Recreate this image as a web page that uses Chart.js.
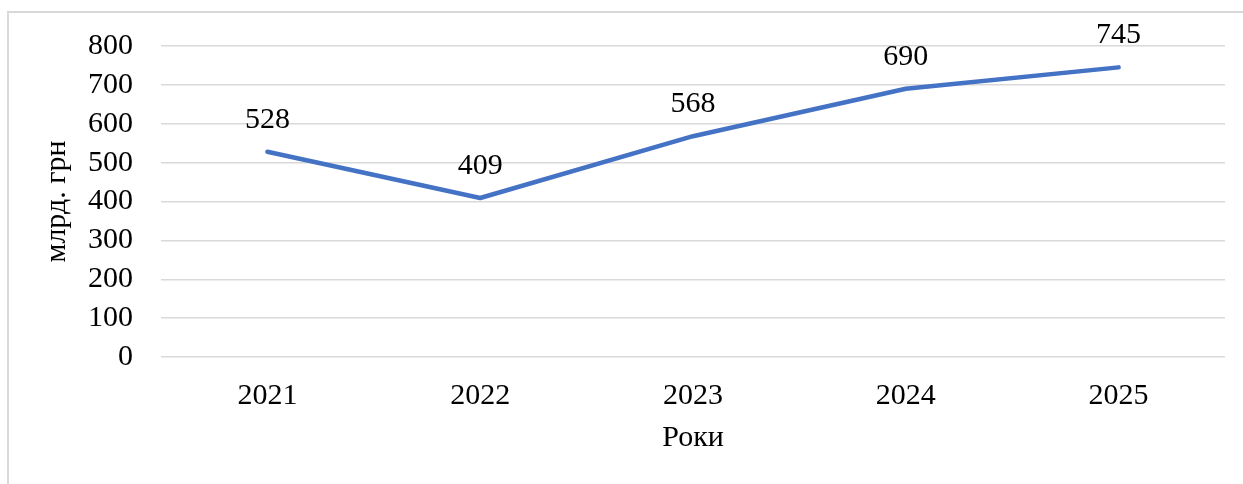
<!DOCTYPE html>
<html>
<head>
<meta charset="utf-8">
<script src="https://cdn.jsdelivr.net/npm/chart.js@4.4.1/dist/chart.umd.min.js"></script>
<style>
    html, body { margin: 0; padding: 0; background: #fff; }
    #wrap { position: relative; width: 1243px; height: 484px; }
    #frame {
        position: absolute; left: 7px; top: 11px; right: 0; bottom: 0;
        border-left: 2px solid #d9d9d9; border-top: 2px solid #d9d9d9;
    }
    #chart { position: absolute; left: 0; top: 0; }
</style>
</head>
<body>
<div id="wrap">
    <div id="frame"></div>
    <canvas id="chart" width="1243" height="484"></canvas>
</div>
<script>
const years = ['2021', '2022', '2023', '2024', '2025'];
const values = [528, 409, 568, 690, 745];
const yTicks = [0, 100, 200, 300, 400, 500, 600, 700, 800];

const FONT = 'Liberation Serif, Times New Roman, serif';

// value labels above each point
const valueLabels = {
    id: 'valueLabels',
    afterDatasetsDraw(chart) {
        const ctx = chart.ctx;
        const meta = chart.getDatasetMeta(0);
        ctx.save();
        ctx.font = '30px ' + FONT;
        ctx.fillStyle = '#000';
        ctx.textAlign = 'center';
        ctx.textBaseline = 'alphabetic';
        meta.data.forEach((pt, i) => {
            ctx.fillText(String(values[i]), pt.x, pt.y - 24);
        });
        ctx.restore();
    }
};

const ctx = document.getElementById('chart').getContext('2d');
new Chart(ctx, {
    type: 'line',
    data: {
        labels: years,
        datasets: [{
            data: values,
            borderColor: '#4472C4',
            borderWidth: 4.5,
            borderCapStyle: 'round',
            borderJoinStyle: 'round',
            pointRadius: 0,
            tension: 0,
            fill: false
        }]
    },
    options: {
        responsive: false,
        animation: false,
        layout: { padding: { top: 39, right: 18, left: 0, bottom: 0 } },
        plugins: {
            legend: { display: false },
            tooltip: { enabled: false }
        },
        scales: {
            x: {
                offset: true,
                grid: { display: false, drawTicks: false },
                border: { display: false },
                ticks: { color: '#000', font: { family: FONT, size: 30 }, padding: 21, autoSkip: false, maxRotation: 0 },
                title: {
                    display: true, text: 'Роки', color: '#000',
                    font: { family: FONT, size: 30 },
                    padding: { top: 0, bottom: 28 }
                },
                afterFit(s) { s.height = 127; }
            },
            y: {
                min: 0, max: 800,
                afterBuildTicks(s) { s.ticks = yTicks.map(v => ({ value: v })); },
                grid: { color: '#d9d9d9', lineWidth: 1.5, drawTicks: false },
                border: { display: false },
                ticks: { color: '#000', font: { family: FONT, size: 30 }, padding: 28, autoSkip: false },
                title: {
                    display: true, text: 'млрд. грн', color: '#000',
                    font: { family: FONT, size: 30 },
                    padding: { top: 39, bottom: 0 }
                },
                afterFit(s) { s.width = 161; }
            }
        }
    },
    plugins: [valueLabels]
});
</script>
</body>
</html>
